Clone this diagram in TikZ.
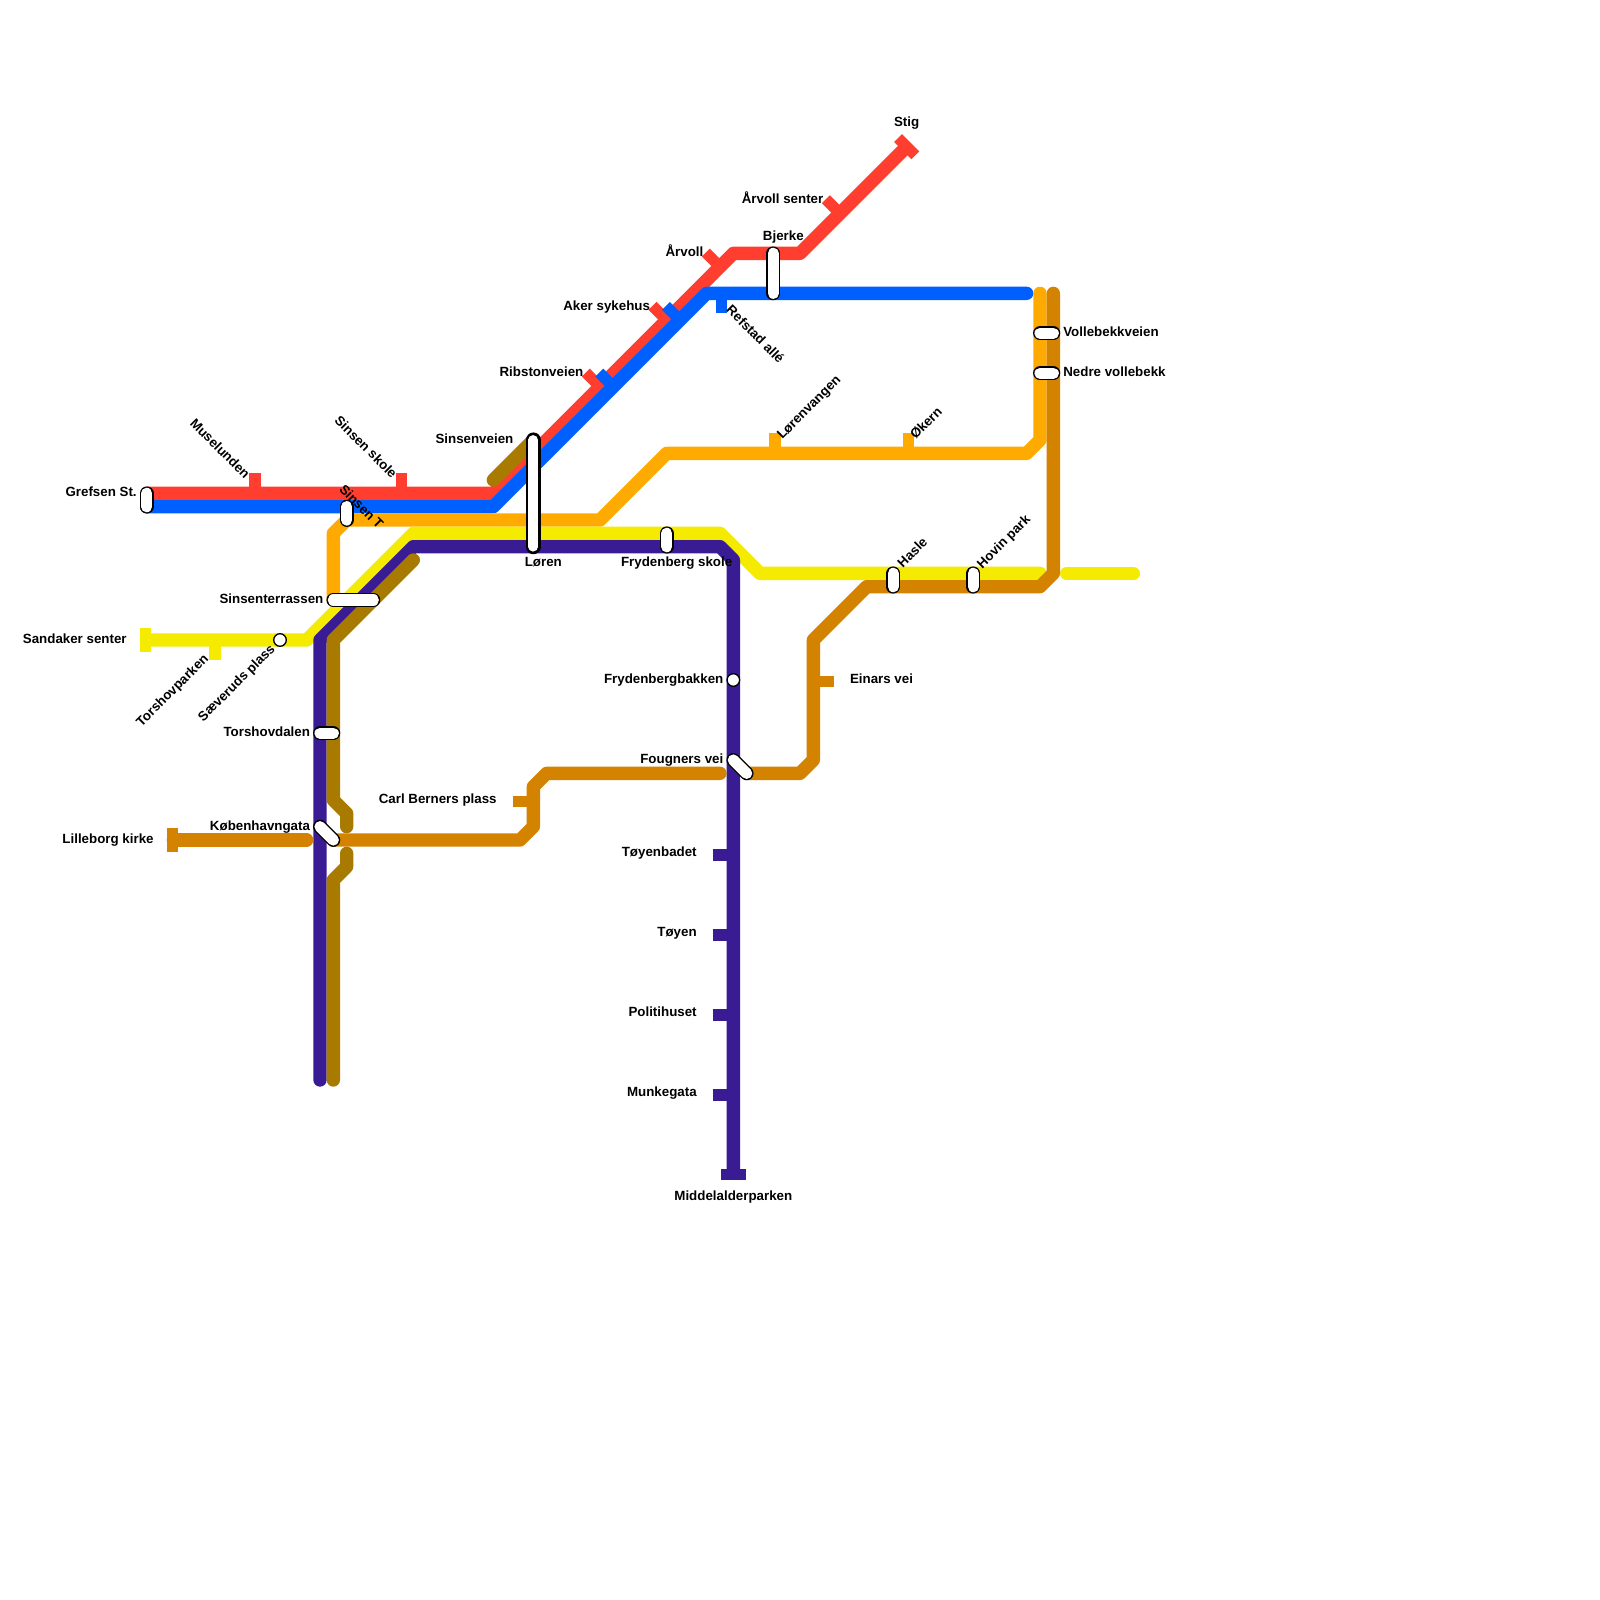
\documentclass[tikz,border=0pt]{standalone}
\usepackage{fontspec}
\setmainfont{Liberation Sans}[BoldFont={Liberation Sans Bold}]
\definecolor{linered}{HTML}{FF3E30}
\definecolor{lineblue}{HTML}{0060FF}
\definecolor{lineamber}{HTML}{FFAA00}
\definecolor{lineyellow}{HTML}{F5EB00}
\definecolor{linepurple}{HTML}{391B94}
\definecolor{lineorange}{HTML}{D38300}
\definecolor{linebrown}{HTML}{A87B00}
\tikzset{
  metro/.style={line width=6.667pt,line cap=round,line join=round},
  stoptick/.style={line width=5.6pt,line cap=butt},
  endbar/.style={line width=5.6pt,line cap=butt},
  pill/.style={draw=black,line width=.667pt,double=white,double distance=5.6pt,line cap=round},
  bigpill/.style={draw=black,line width=1.333pt,double=white,double distance=4.9pt,line cap=round},
  stopdot/.style={circle,draw=black,fill=white,line width=.667pt,inner sep=0pt,minimum size=6.3pt},
  lbl/.style={font=\bfseries\fontsize{6.667pt}{8pt}\selectfont,inner sep=0pt},
}
\begin{document}
\begin{tikzpicture}[x=6.6667pt,y=-6.6667pt]
\useasboundingbox (0,0) rectangle (120,120);
% red
\draw[metro,linered,line cap=butt] (11,37) -- (37,37) -- (55,19) -- (60,19) -- (68,11);
\draw[endbar,linered] (67.35,10.35) -- (68.65,11.65);
\draw[stoptick,linered] (19.125,37) -- (19.125,35.5);
\draw[stoptick,linered] (30.125,37) -- (30.125,35.5);
\draw[stoptick,linered] (45,29) -- (43.94,27.94);
\draw[stoptick,linered] (50,24) -- (48.94,22.94);
\draw[stoptick,linered] (54,20) -- (52.94,18.94);
\draw[stoptick,linered] (63,16) -- (61.94,14.94);
% blue
\draw[metro,lineblue] (11,38) -- (37,38) -- (53,22) -- (77,22);
\draw[stoptick,lineblue] (46,29) -- (44.94,27.94);
\draw[stoptick,lineblue] (51,24) -- (49.94,22.94);
\draw[stoptick,lineblue] (54.125,22) -- (54.125,23.5);
% amber
\draw[metro,lineamber] (25,45) -- (25,40) -- (26,39) -- (45,39) -- (50,34) -- (77,34) -- (78,33) -- (78,22);
\draw[stoptick,lineamber] (58.125,34) -- (58.125,32.5);
\draw[stoptick,lineamber] (68.125,34) -- (68.125,32.5);
% yellow
\draw[metro,lineyellow] (11,48) -- (23,48) -- (31,40) -- (54,40) -- (57,43) -- (78,43);
\draw[metro,lineyellow] (80,43) -- (85,43);
\draw[endbar,lineyellow] (10.94,47.08) -- (10.94,48.92);
\draw[stoptick,lineyellow] (16.125,48) -- (16.125,49.5);
% purple
\draw[metro,linepurple] (24,81) -- (24,48) -- (31,41) -- (54,41) -- (55,42) -- (55,88);
\draw[endbar,linepurple] (54.08,88.06) -- (55.92,88.06);
\foreach \y in {64,70,76,82}
  \draw[stoptick,linepurple] (53.45,\y.125) -- (55,\y.125);
% brown
\draw[metro,linebrown] (31,42) -- (25,48) -- (25,60) -- (26,61) -- (26,62);
\draw[metro,linebrown] (26,64) -- (26,65) -- (25,66) -- (25,81);
\draw[metro,linebrown] (37,36) -- (40,33);
% dark orange
\draw[metro,lineorange] (79,22) -- (79,43) -- (78,44) -- (65,44) -- (61,48) -- (61,57) -- (60,58) -- (56,58);
\draw[metro,lineorange] (54,58) -- (41,58) -- (40,59) -- (40,62) -- (39,63) -- (25,63);
\draw[metro,lineorange] (23,63) -- (13,63);
\draw[endbar,lineorange] (12.94,62.08) -- (12.94,63.92);
\draw[stoptick,lineorange] (38.5,60.125) -- (40,60.125);
\draw[stoptick,lineorange] (61,51.125) -- (62.55,51.125);
% stations
\draw[pill] (11,37) -- (11,38);
\draw[pill] (26,38) -- (26,39);
\draw[pill] (25,45) -- (28,45);
\draw[pill] (24,55) -- (25,55);
\draw[pill] (24,62) -- (25,63);
\draw[pill] (55,57) -- (56,58);
\draw[pill] (50,40) -- (50,41);
\draw[pill] (58,19) -- (58,22);
\draw[pill] (67,43) -- (67,44);
\draw[pill] (73,43) -- (73,44);
\draw[pill] (78,25) -- (79,25);
\draw[pill] (78,28) -- (79,28);
\draw[bigpill] (40,33) -- (40,41);
\node[stopdot] (saeveruds) at (21,48) {};
\node[stopdot] (frydenbergbakken) at (55,51) {};
% labels, right aligned
\node[lbl,anchor=base east] (grefsenlbl) at (10.28,37.25) {Grefsen St.};
\node[lbl,anchor=base east] (sinsenveienlbl) at (38.53,33.25) {Sinsenveien};
\node[lbl,anchor=base east] (terrassenlbl) at (24.28,45.25) {Sinsenterrassen};
\node[lbl,anchor=base east] (sandakerlbl) at (9.53,48.25) {Sandaker senter};
\node[lbl,anchor=base east] (torshovdalenlbl) at (23.28,55.25) {Torshovdalen};
\node[lbl,anchor=base east] (kobenhavnlbl) at (23.28,62.25) {Københavngata};
\node[lbl,anchor=base east] (lilleborglbl) at (11.55,63.25) {Lilleborg kirke};
\node[lbl,anchor=base east] (carllbl) at (37.28,60.25) {Carl Berners plass};
\node[lbl,anchor=base east] (fougnerslbl) at (54.28,57.25) {Fougners vei};
\node[lbl,anchor=base east] (bakkenlbl) at (54.28,51.25) {Frydenbergbakken};
\node[lbl,anchor=base east] (badetlbl) at (52.28,64.25) {Tøyenbadet};
\node[lbl,anchor=base east] (toyenlbl) at (52.28,70.25) {Tøyen};
\node[lbl,anchor=base east] (politilbl) at (52.28,76.25) {Politihuset};
\node[lbl,anchor=base east] (munkelbl) at (52.28,82.25) {Munkegata};
\node[lbl,anchor=base east] (ribstonlbl) at (43.78,28.25) {Ribstonveien};
\node[lbl,anchor=base east] (akerlbl) at (48.78,23.25) {Aker sykehus};
\node[lbl,anchor=base east] (arvolllbl) at (52.78,19.25) {Årvoll};
\node[lbl,anchor=base east] (senterlbl) at (61.78,15.25) {Årvoll senter};
% labels, left aligned
\node[lbl,anchor=base west] (vollebekklbl) at (79.72,25.25) {Vollebekkveien};
\node[lbl,anchor=base west] (nedrelbl) at (79.72,28.25) {Nedre vollebekk};
\node[lbl,anchor=base west] (einarslbl) at (63.72,51.25) {Einars vei};
% labels, centred
\node[lbl,anchor=base] (stiglbl) at (68,9.5) {Stig};
\node[lbl,anchor=base] (bjerkelbl) at (58.75,18) {Bjerke};
\node[lbl,anchor=base] (lorenlbl) at (40.75,42.5) {Løren};
\node[lbl,anchor=base] (skolelbl) at (50.75,42.5) {Frydenberg skole};
\node[lbl,anchor=base] (middelalderlbl) at (55,90) {Middelalderparken};
% labels, slanted
\node[lbl,anchor=base east,rotate=-45] (muselundenlbl) at (18.35,35.97) {Muselunden};
\node[lbl,anchor=base east,rotate=-45] (sinsenskolelbl) at (29.38,35.95) {Sinsen skole};
\node[lbl,anchor=base west,rotate=-45] (sinsentlbl) at (25.37,36.75) {Sinsen T};
\node[lbl,anchor=base west,rotate=-45] (refstadlbl) at (54.4,23.3) {Refstad allé};
\node[lbl,anchor=base west,rotate=45] (lorenvangenlbl) at (58.65,33.02) {Lørenvangen};
\node[lbl,anchor=base west,rotate=45] (okernlbl) at (68.65,33.02) {Økern};
\node[lbl,anchor=base west,rotate=45] (haslelbl) at (67.7,42.63) {Hasle};
\node[lbl,anchor=base west,rotate=45] (hovinlbl) at (73.65,42.7) {Hovin park};
\node[lbl,anchor=base east,rotate=45] (torshovparkenlbl) at (15.7,49.47) {Torshovparken};
\node[lbl,anchor=base east,rotate=45] (saeverudslbl) at (20.7,48.72) {Sæveruds plass};
\end{tikzpicture}
\end{document}
